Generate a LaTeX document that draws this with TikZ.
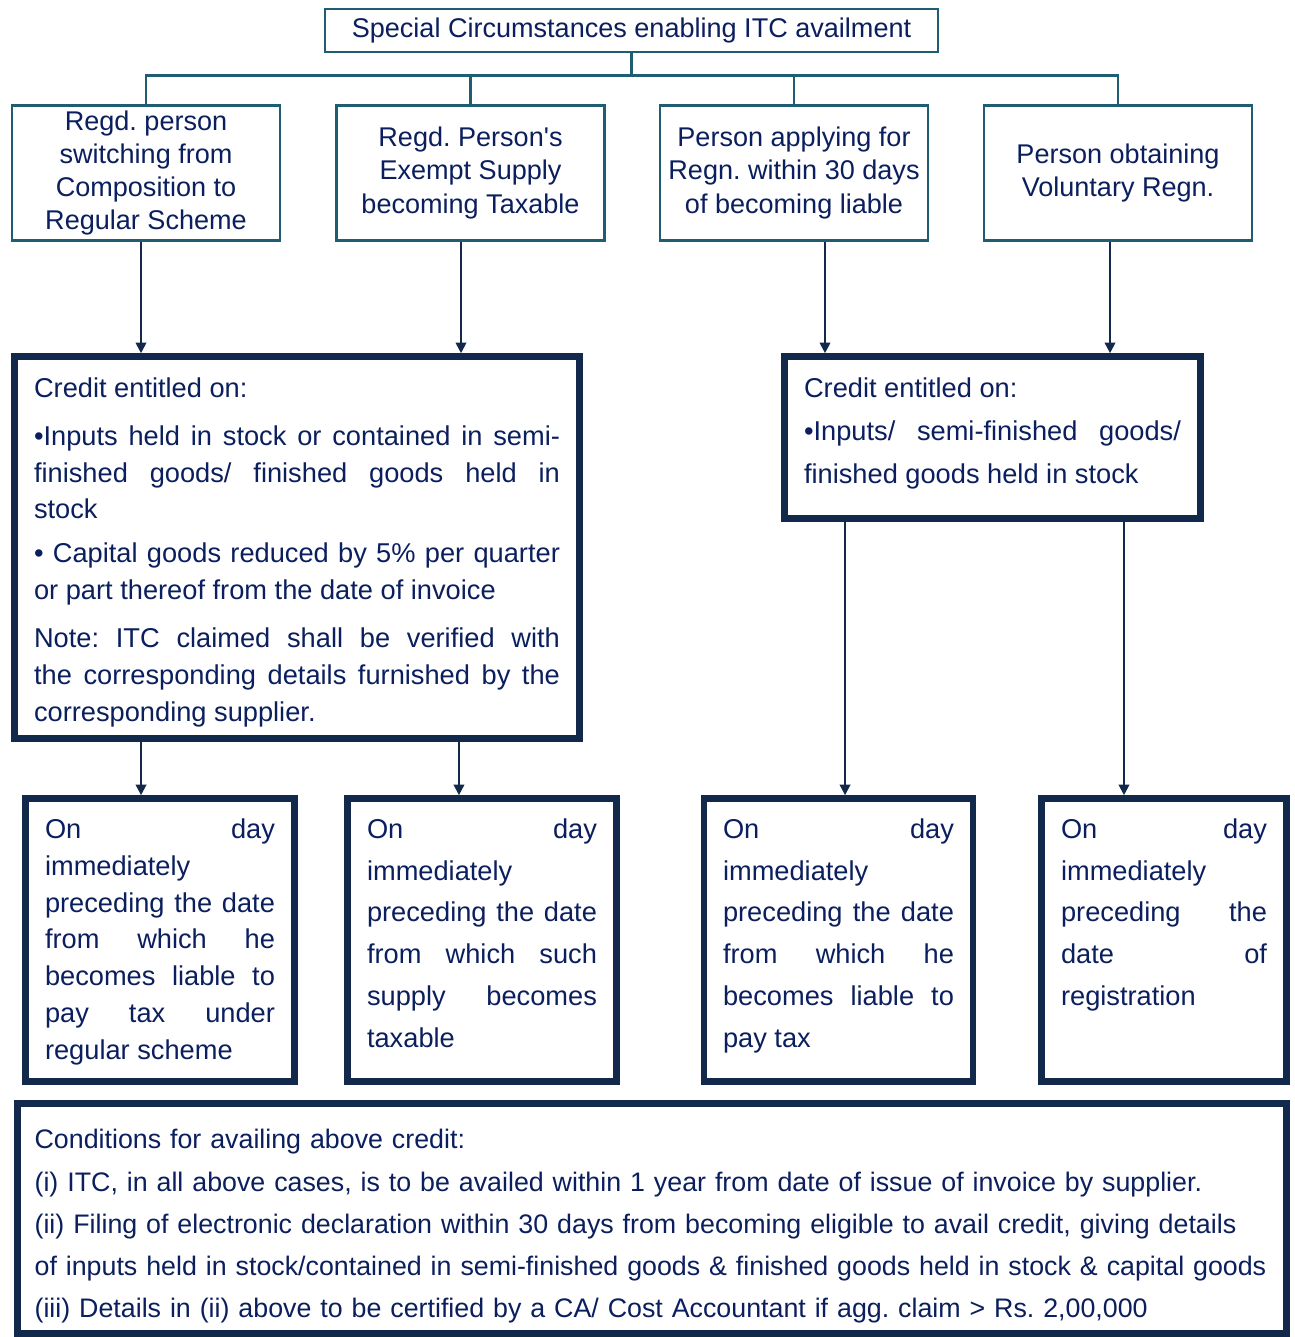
\documentclass[tikz,border=0pt]{standalone}
\usepackage{fontspec}
\setmainfont{Liberation Sans}
\usepackage{xcolor}
\usepackage{tikz}
\usetikzlibrary{arrows.meta,positioning}

\definecolor{tealline}{HTML}{1F5E72}
\definecolor{navyline}{HTML}{13294B}
\definecolor{inkblue}{HTML}{0B1F5E}

% top aligned text block of fixed height
\newcommand{\topfill}[3]{\parbox[c][#1][t]{#2}{\tolerance=10000\hbadness=10000 #3}}
\frenchspacing

\begin{document}
\begin{tikzpicture}[x=0.02cm, y=-0.02cm,
    head/.style={draw=tealline, line width=1.6pt, fill=white, align=center, text=inkblue, inner sep=1pt},
    topbox/.style={head, minimum width=5.36cm, minimum height=2.7cm, font=\fontsize{15.4}{18.8}\selectfont},
    credit/.style={draw=navyline, line width=3.8pt, fill=white, text=inkblue, inner xsep=0.39cm, inner ysep=0.43cm},
    daybox/.style={draw=navyline, line width=3.8pt, fill=white, text=inkblue, inner xsep=0.37cm, inner ysep=0.4cm, minimum width=5.38cm},
    link/.style={draw=tealline, line width=1.6pt},
    arr/.style={draw=navyline, line width=1.1pt, -{Triangle[length=6pt,width=6pt]}}
  ]
    \useasboundingbox (0,0) rectangle (1294,1337);

    \node[head, minimum width=12.26cm, minimum height=0.86cm, font=\fontsize{15.4}{18}\selectfont] (title) at (631.5,30.5) {Special Circumstances enabling ITC availment};

    \node[topbox] (t1) at (146,173) {Regd. person\\switching from\\Composition to\\Regular Scheme};
    \node[topbox] (t2) at (470.5,173) {Regd. Person\textquotesingle s\\Exempt Supply\\becoming Taxable};
    \node[topbox] (t3) at (794,173) {Person applying for\\Regn. within 30 days\\of becoming liable};
    \node[topbox] (t4) at (1118,173) {Person obtaining\\Voluntary Regn.};

    \draw[link] (title.south) -- ++(0,-0.46cm);
    \draw[link] (t1.north) -- ++(0,0.58cm) -| (t4.north);
    \draw[link] (t2.north) -- ++(0,0.58cm);
    \draw[link] (t3.north) -- ++(0,0.58cm);

    \node[credit, font=\fontsize{15.5}{21}\selectfont] (c1) at (297,547.5) {\topfill{6.78cm}{10.52cm}{Credit entitled on:\par\vspace{6pt}
      •Inputs held in stock or contained in semi-\linebreak finished goods/ finished goods held in\linebreak stock\par\vspace{4pt}
      • Capital goods reduced by 5\% per quarter\linebreak or part thereof from the date of invoice\par\vspace{6pt}
      Note: ITC claimed shall be verified with\linebreak the corresponding details furnished by the\linebreak corresponding supplier.}};
    \node[credit, font=\fontsize{15.5}{24.5}\selectfont] (c2) at (992.5,437.5) {\topfill{2.38cm}{7.54cm}{Credit entitled on:\par
      •Inputs/ semi-finished goods/\linebreak finished goods held in stock}};

    \node[daybox, font=\fontsize{15.5}{21}\selectfont] (da) at (160,940) {\topfill{4.86cm}{4.6cm}{On day\linebreak immediately\newline preceding the date\linebreak from which he\linebreak becomes liable to\linebreak pay tax under\linebreak regular scheme}};
    \node[daybox, font=\fontsize{15.5}{23.8}\selectfont] (db) at (482,940) {\topfill{4.86cm}{4.6cm}{On day\linebreak immediately\newline preceding the date\linebreak from which such\linebreak supply becomes\linebreak taxable}};
    \node[daybox, font=\fontsize{15.5}{23.8}\selectfont] (dc) at (838.5,940) {\topfill{4.86cm}{4.62cm}{On day\linebreak immediately\newline preceding the date\linebreak from which he\linebreak becomes liable to\linebreak pay tax}};
    \node[daybox, minimum width=4.9cm, font=\fontsize{15.5}{23.8}\selectfont] (dd) at (1164,940) {\topfill{4.86cm}{4.12cm}{On day\linebreak immediately\newline preceding the\linebreak date of\linebreak registration}};

    % arrows between the levels
    \coordinate (a1) at ([xshift=-0.1cm]t1.south);
    \coordinate (a2) at ([xshift=-0.19cm]t2.south);
    \coordinate (a3) at ([xshift=0.62cm]t3.south);
    \coordinate (a4) at ([xshift=-0.16cm]t4.south);
    \draw[arr] (a1) -- (a1 |- c1.north);
    \draw[arr] (a2) -- (a2 |- c1.north);
    \draw[arr] (a3) -- (a3 |- c2.north);
    \draw[arr] (a4) -- (a4 |- c2.north);

    \coordinate (a5) at ([xshift=-3.12cm]c1.south);
    \coordinate (a6) at ([xshift=3.24cm]c1.south);
    \coordinate (a7) at ([xshift=-2.95cm]c2.south);
    \coordinate (a8) at ([xshift=2.63cm]c2.south);
    \draw[arr] (a5) -- (a5 |- da.north);
    \draw[arr] (a6) -- (a6 |- db.north);
    \draw[arr] (a7) -- (a7 |- dc.north);
    \draw[arr] (a8) -- (a8 |- dd.north);

    \node[credit, text width=24.7cm, align=left, inner xsep=0.34cm, inner ysep=0.2cm, minimum height=4.4cm, font=\fontsize{15.25}{24}\selectfont] (cond) at (652,1218.5) {\rule{0pt}{20pt}Conditions for availing above credit:\\
      (i) ITC, in all above cases, is to be availed within 1 year from date of issue of invoice by supplier.\\
      (ii) Filing of electronic declaration within 30 days from becoming eligible to avail credit, giving details\\
      of inputs held in stock/contained in semi-finished goods \& finished goods held in stock \& capital goods\\
      (iii) Details in (ii) above to be certified by a CA/ Cost Accountant if agg. claim > Rs. 2,00,000};
  \end{tikzpicture}
\end{document}
